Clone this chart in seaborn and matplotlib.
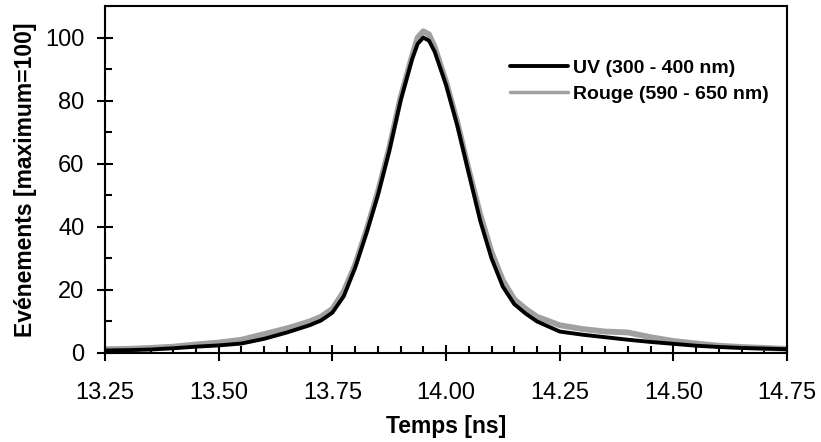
import pandas as pd
import matplotlib.pyplot as plt
import seaborn as sns
from matplotlib.ticker import MultipleLocator

# time axis [ns]
temps = [13.25, 13.30, 13.35, 13.40, 13.45, 13.50, 13.55, 13.60, 13.65, 13.70,
         13.725, 13.75, 13.775, 13.80, 13.825, 13.85, 13.875, 13.90, 13.925, 13.9375,
         13.95, 13.9625, 13.975, 14.00, 14.025, 14.05, 14.075, 14.10, 14.125, 14.15,
         14.175, 14.20, 14.25, 14.30, 14.35, 14.40, 14.45, 14.50, 14.55, 14.60,
         14.65, 14.70, 14.75]

# UV (300 - 400 nm)
uv = [0.8, 0.9, 1.1, 1.5, 2.0, 2.4, 3.0, 4.5, 6.5, 8.8,
      10.3, 12.8, 18, 27, 38, 50, 64, 80, 93, 98,
      100, 99, 95.5, 85, 72, 57, 42, 30, 21, 15.5,
      12.5, 10, 6.8, 5.8, 5.0, 4.2, 3.5, 2.9, 2.3, 1.9,
      1.6, 1.4, 1.2]

# Rouge (590 - 650 nm)
rouge = [1.2, 1.3, 1.6, 2.0, 2.7, 3.3, 4.2, 6.0, 7.8, 10,
         11.5, 14, 19.5, 28, 39, 51, 65, 81, 94, 100,
         102, 101, 97, 86, 73, 58, 44, 32, 23, 17,
         14, 11.5, 8.8, 7.6, 6.8, 6.5, 5.0, 3.8, 3.0, 2.3,
         1.9, 1.6, 1.3]

labels = ["UV (300 - 400 nm)", "Rouge (590 - 650 nm)"]


def plot_spectre():
    sns.set_style("ticks")
    plt.rcParams["font.family"] = ["Liberation Sans", "DejaVu Sans"]
    plt.rcParams["text.color"] = "black"
    plt.rcParams["axes.labelcolor"] = "black"
    plt.rcParams["xtick.color"] = "black"
    plt.rcParams["ytick.color"] = "black"
    plt.rcParams["axes.edgecolor"] = "black"

    df = pd.DataFrame({"Temps": temps, "UV": uv, "Rouge": rouge})

    fig = plt.figure(figsize=(8.21, 4.42), dpi=100)
    ax = fig.add_axes([0.128, 0.2014, 0.8306, 0.785])

    sns.lineplot(x="Temps", y="Rouge", data=df, ax=ax, color="#a0a0a0",
                 linewidth=4.2, label=labels[1])
    sns.lineplot(x="Temps", y="UV", data=df, ax=ax, color="black",
                 linewidth=2.8, label=labels[0])

    ax.set_xlim(13.25, 14.75)
    ax.set_ylim(0, 110)
    ax.xaxis.set_major_locator(MultipleLocator(0.25))
    ax.xaxis.set_minor_locator(MultipleLocator(0.05))
    ax.yaxis.set_major_locator(MultipleLocator(20))
    ax.yaxis.set_minor_locator(MultipleLocator(10))
    ax.xaxis.set_major_formatter(plt.FormatStrFormatter("%.2f"))

    ax.tick_params(which="major", direction="inout", length=12, width=1.5,
                   labelsize=17)
    ax.tick_params(axis="x", which="major", pad=15)
    ax.tick_params(axis="y", which="major", pad=9)
    ax.tick_params(which="minor", direction="in", length=5, width=1.5)
    for sp in ax.spines.values():
        sp.set_linewidth(1.5)
        sp.set_visible(True)

    ax.set_xlabel("Temps [ns]", fontsize=16.5, fontweight="bold", labelpad=8)
    ax.set_ylabel("Evénements [maximum=100]", fontsize=16.5,
                  fontweight="bold", labelpad=6)

    handles, labs = ax.get_legend_handles_labels()
    order = [labs.index(labels[0]), labs.index(labels[1])]
    leg = ax.legend([handles[i] for i in order], [labs[i] for i in order],
                    loc="upper left", bbox_to_anchor=(0.579, 0.875), frameon=False,
                    borderpad=0, handlelength=3.0, handletextpad=0.25,
                    labelspacing=0.45, prop={"weight": "bold", "size": 14})
    # thinner grey sample in the legend, as in the original
    leg.get_lines()[1].set_linewidth(2.5)

    fig.savefig("out.png", dpi=100)


if __name__ == "__main__":
    plot_spectre()
